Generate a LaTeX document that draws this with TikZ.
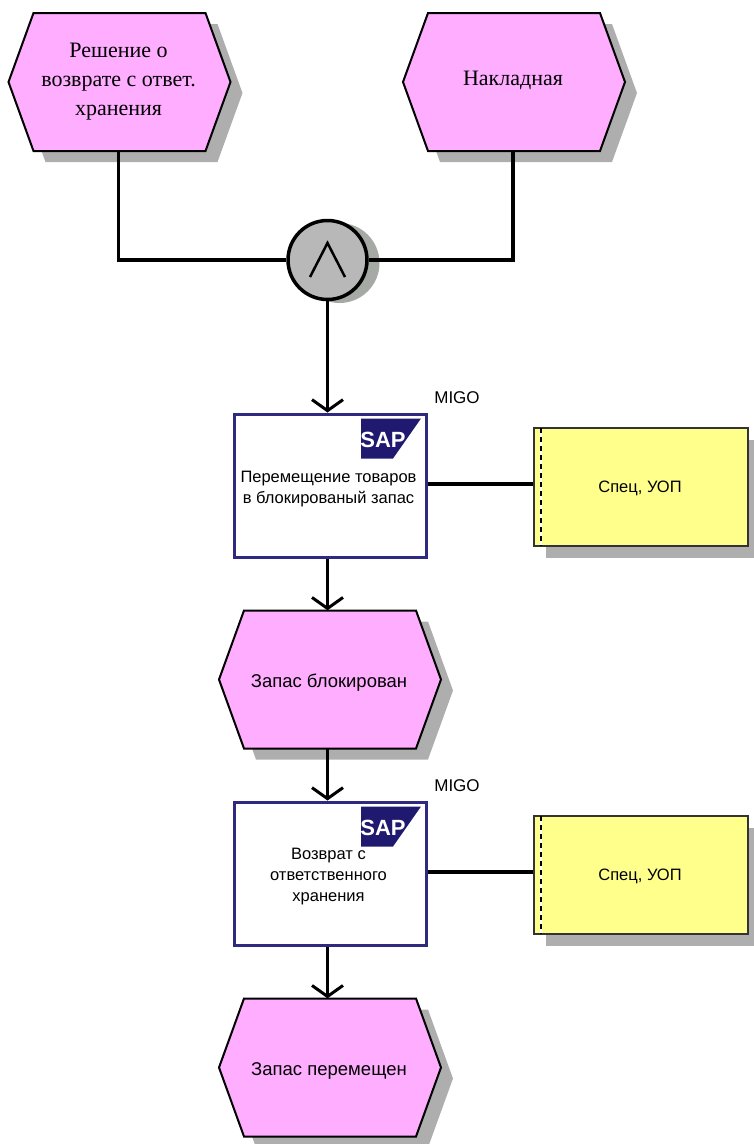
\documentclass[tikz,border=0pt]{standalone}
\usepackage{fontspec}
\setmainfont{Liberation Sans}
\newfontfamily\serifcyr{Liberation Serif}
\usetikzlibrary{arrows.meta}
\definecolor{evfill}{HTML}{FFAEFF}
\definecolor{orgfill}{HTML}{FFFF8C}
\definecolor{shadowgray}{HTML}{AEAEAE}
\definecolor{opfill}{HTML}{B8B8B8}
\definecolor{opshadow}{HTML}{A5AAA5}
\definecolor{funcedge}{HTML}{2F2A80}
\definecolor{sapblue}{HTML}{1F1A70}
\tikzset{
  x=1pt,y=-1pt,
  conn/.style={line width=3.5pt,black},
  arr/.style={conn,-{Straight Barb[length=11pt,width=31pt,line width=3pt]}},
  evbox/.style={inner sep=0pt,minimum width=222pt,minimum height=138pt,align=center,font=\fontsize{18.5}{21}\selectfont},
  evserif/.style={evbox,font=\serifcyr\fontsize{22}{29}\selectfont},
  evshape/.style={draw=black,line width=2pt,fill=evfill},
  shadow/.style={fill=shadowgray,draw=none},
  funcbox/.style={draw=funcedge,line width=3pt,fill=white,inner sep=0pt,minimum width=192pt,minimum height=143pt},
  functext/.style={inner sep=0pt,align=center,font=\fontsize{16.5}{21}\selectfont},
  orgbox/.style={draw=black!80,line width=2pt,fill=orgfill,inner sep=0pt,minimum width=214pt,minimum height=118pt},
  orgtext/.style={inner sep=0pt,font=\fontsize{16.5}{19}\selectfont},
  lbl/.style={inner sep=0pt,font=\fontsize{17}{19}\selectfont},
}
% name, centre x, centre y, style, text, text shift
\newcommand{\hexev}[6]{%
  \fill[shadow,shift={(#2+12,#3+11)}] (-86,-69) -- (86,-69) -- (111,0) -- (86,69) -- (-86,69) -- (-111,0) -- cycle;
  \draw[evshape,shift={(#2,#3)}] (-86,-69) -- (86,-69) -- (111,0) -- (86,69) -- (-86,69) -- (-111,0) -- cycle;
  \node[evbox] (#1) at (#2-1,#3) {};
  \node[#4,minimum width=0pt,minimum height=0pt] (#1txt) at (#2-1,#3+#6) {#5};}
% name, centre x, centre y, text
\newcommand{\funcsap}[4]{%
  \node[funcbox] (#1) at (#2,#3) {};
  \fill[sapblue,shift={(#2,#3)}] (31,-67) -- (91,-67) -- (63,-27) -- (31,-27) -- cycle;
  \node[inner sep=0pt,text=white,font=\bfseries\fontsize{22}{22}\selectfont] (#1sap) at (#2+53,#3-46) {SAP};
  \node[functext] (#1txt) at (#2-1.5,#3+3.5) {#4};
  \node[lbl] (#1lbl) at (#2+127,#3-87.5) {MIGO};}
\newcommand{\orgunit}[4]{%
  \fill[shadow] (#2-95,#3-47) rectangle (#2+119,#3+71);
  \node[orgbox] (#1) at (#2,#3) {};
  \draw[white,line width=2pt] (#2-100,#3-59) -- (#2-100,#3+59);
  \draw[black,line width=2pt,dashed,dash pattern=on 5pt off 4pt] (#2-100,#3-59) -- (#2-100,#3+59);
  \node[orgtext] (#1txt) at (#2-1,#3+1.5) {#4};}
\begin{document}
\begin{tikzpicture}
\useasboundingbox (0,0) rectangle (753,1144);
\hexev{e1}{119.5}{82}{evserif}{Решение о\\возврате с ответ.\\хранения}{0}
\hexev{e2}{514}{82}{evserif}{Накладная}{-2}
\fill[opshadow] (339.5,263) circle (40);
\node[circle,draw=black,line width=3.5pt,fill=opfill,inner sep=0pt,minimum size=79pt] (and) at (327.5,260) {};
\coordinate (andtop) at (327.5,243);
\coordinate (andl) at (310,277);
\coordinate (andr) at (345,277);
\draw[line width=2.5pt,black,line join=miter] (andl) -- (andtop) -- (andr);
\funcsap{f1}{330}{485.5}{Перемещение товаров\\в блокированый запас}
\orgunit{o1}{641}{487}{Спец, УОП}
\hexev{e3}{330}{679.5}{evbox}{Запас блокирован}{3}
\funcsap{f2}{330}{873.5}{Возврат с\\ответственного\\хранения}
\orgunit{o2}{641}{875}{Спец, УОП}
\hexev{e4}{330}{1067.5}{evbox}{Запас перемещен}{3}
\draw[conn] (e1.south) |- (and.west);
\draw[conn] (e2.south) |- (and.east);
\draw[arr] (and.south) -- (and.south |- f1.north);
\draw[conn] ([yshift=1.5pt]f1.east) -- ([yshift=1.5pt]f1.east -| o1.west);
\draw[arr] (and.south |- f1.south) -- (and.south |- e3.north);
\draw[arr] (and.south |- e3.south) -- (and.south |- f2.north);
\draw[conn] ([yshift=1.5pt]f2.east) -- ([yshift=1.5pt]f2.east -| o2.west);
\draw[arr] (and.south |- f2.south) -- (and.south |- e4.north);
\end{tikzpicture}
\end{document}
